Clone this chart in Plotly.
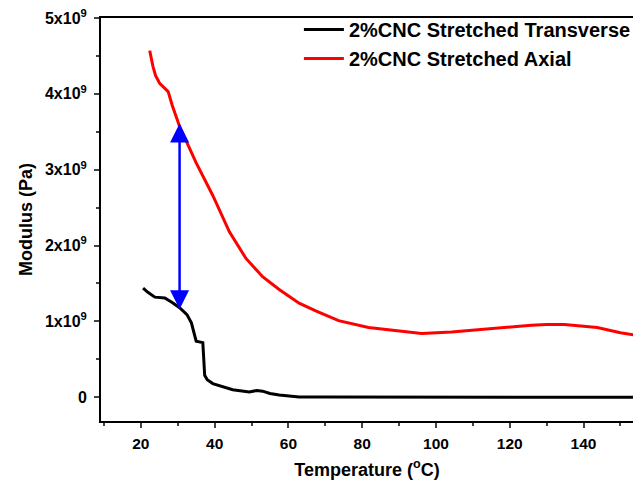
import plotly.graph_objects as go

# 2%CNC stretched, transverse direction (black)
temp_transverse = [20.6, 22.0, 23.8, 26.5, 28.5, 30.5, 32.5, 33.7, 35.0, 36.8, 37.3, 38.0, 39.5,
                   42.0, 44.9, 49.4, 51.5, 53.0, 55.0, 57.5, 62.9, 70.0, 80.0, 100.0, 120.0,
                   140.0, 156.0]
mod_transverse = [1.44e9, 1.38e9, 1.32e9, 1.31e9, 1.25e9, 1.18e9, 1.09e9, 0.98e9, 0.74e9,
                  0.72e9, 0.29e9, 0.23e9, 0.18e9, 0.14e9, 0.10e9, 0.07e9, 0.09e9, 0.08e9,
                  0.05e9, 0.03e9, 0.005e9, 0.002e9, 0.0, 0.0, 0.0, 0.0, 0.0]

# 2%CNC stretched, axial direction (red)
temp_axial = [22.4, 22.8, 23.3, 24.0, 25.1, 27.4, 28.5, 30.5, 35.0, 39.5, 44.0, 48.5, 53.0,
              57.5, 62.9, 67.4, 73.6, 81.7, 89.8, 96.1, 104.2, 113.2, 125.8, 130.0, 134.8,
              143.7, 150.0, 155.4]
mod_axial = [4.57e9, 4.47e9, 4.36e9, 4.24e9, 4.14e9, 4.03e9, 3.85e9, 3.57e9, 3.09e9, 2.66e9,
             2.18e9, 1.83e9, 1.59e9, 1.42e9, 1.24e9, 1.14e9, 1.01e9, 0.92e9, 0.87e9, 0.84e9,
             0.86e9, 0.90e9, 0.95e9, 0.96e9, 0.96e9, 0.92e9, 0.85e9, 0.81e9]

# double arrow marking the gap between the two curves
arrow_temp = 30.5
arrow_top = 3.61e9
arrow_bottom = 1.16e9

y_tickvals = [0, 1e9, 2e9, 3e9, 4e9, 5e9]
y_ticktext = ["<b>0</b>"] + [f"<b>{i}x10<sup>9</sup></b>" for i in range(1, 6)]

fig = go.Figure()
fig.add_trace(go.Scatter(x=temp_transverse, y=mod_transverse, mode='lines',
                         name='2%CNC Stretched Transverse', line=dict(color='black', width=3)))
fig.add_trace(go.Scatter(x=temp_axial, y=mod_axial, mode='lines',
                         name='2%CNC Stretched Axial', line=dict(color='#ff0000', width=3)))

for tail, head in [(arrow_bottom, arrow_top), (arrow_top, arrow_bottom)]:
    fig.add_annotation(x=arrow_temp, y=head, ax=arrow_temp, ay=tail, xref='x', yref='y',
                       axref='x', ayref='y', text='', showarrow=True, arrowhead=2,
                       arrowsize=1.9, arrowwidth=2, arrowcolor='#0000ff')

# page body has an 8px margin: keep the figure inside the window
fig.update_layout(
    width=628, height=472,
    margin=dict(l=93, r=0, t=10, b=59),
    plot_bgcolor='white', paper_bgcolor='white',
    font=dict(family='Arial', color='black'),
    showlegend=True,
    legend=dict(x=0.372, y=1.02, xanchor='left', yanchor='top', bgcolor='rgba(0,0,0,0)',
                font=dict(size=20, weight='bold'), tracegroupgap=0, itemwidth=40),
)
fig.update_xaxes(
    range=[9.2, 153.4], tickvals=[20, 40, 60, 80, 100, 120, 140],
    tickfont=dict(size=15.5, weight='bold'), ticklabelstandoff=2, automargin=False,
    showline=True, linecolor='black', linewidth=2, mirror=True,
    ticks='outside', ticklen=5, tickwidth=2, showgrid=False, zeroline=False,
    minor=dict(tickvals=[10, 30, 50, 70, 90, 110, 130, 150], ticks='outside', ticklen=3,
               tickwidth=2, showgrid=False),
    title=dict(text='<b>Temperature (<sup>o</sup>C)</b>', font=dict(size=18), standoff=19),
)
fig.update_yaxes(
    range=[-0.313e9, 5.0e9], tickvals=y_tickvals, ticktext=y_ticktext,
    tickfont=dict(size=16), ticklabeloverflow='allow', ticklabelstandoff=4, automargin=False,
    showline=True, linecolor='black', linewidth=2, mirror=False,
    ticks='outside', ticklen=5, tickwidth=2, showgrid=False, zeroline=False,
    minor=dict(tickvals=[0.5e9, 1.5e9, 2.5e9, 3.5e9, 4.5e9], ticks='outside', ticklen=3,
               tickwidth=2, showgrid=False),
    title=dict(text='<b>Modulus (Pa)</b>', font=dict(size=18), standoff=8),
)

fig.write_html("out.html")
